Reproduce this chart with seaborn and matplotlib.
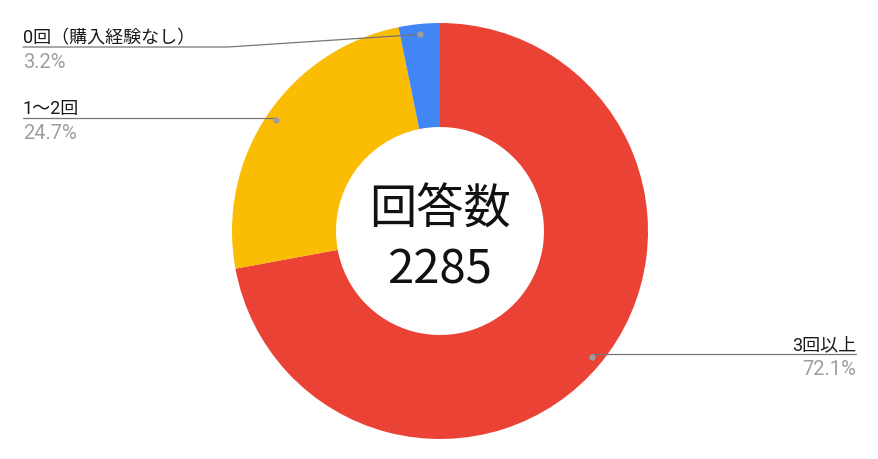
import numpy as np
import matplotlib
matplotlib.use("Agg")
import matplotlib.pyplot as plt
import seaborn as sns

# data
labels = ["3回以上", "1〜2回", "0回（購入経験なし）"]
shares = [72.1, 24.7, 3.2]
colors = ["#EA4335", "#FBBC04", "#4285F4"]
total_answers = 2285

sns.set_theme(style="white")
plt.rcParams["font.family"] = ["Noto Sans CJK JP", "DejaVu Sans"]
label_font = ["Roboto", "Noto Sans CJK JP", "DejaVu Sans"]

W, H = 879, 460
fig = plt.figure(figsize=(W / 100, H / 100), dpi=100)
ax = fig.add_axes([0, 0, 1, 1])

cx, cy, R = 440, H - 232, 208
wedges, _ = ax.pie(shares, colors=sns.color_palette(colors), startangle=90,
                   counterclock=False, center=(cx, cy), radius=R,
                   wedgeprops=dict(width=R * 0.5, linewidth=0))
ax.set_xlim(0, W)
ax.set_ylim(0, H)
ax.set_aspect("equal")
ax.axis("off")

# center text
ax.text(cx, H - 210, "回答数", ha="center", va="center", fontsize=34, color="#111111")
ax.text(cx, H - 270, str(total_answers), ha="center", va="center", fontsize=34, color="#111111")

# leader lines: (line y, text x end, side)
label_pos = {
    "3回以上": (H - 355, 856, "right"),
    "1〜2回": (H - 119, 23, "left"),
    "0回（購入経験なし）": (H - 48, 23, "left"),
}
line_col = "#757575"
for w, lab, pct in zip(wedges, labels, shares):
    mid = np.deg2rad((w.theta1 + w.theta2) / 2)
    dx, dy = cx + 0.95 * R * np.cos(mid), cy + 0.95 * R * np.sin(mid)
    ly, lx, side = label_pos[lab]
    ax.plot(dx, dy, "o", ms=3.5, color="#9E9E9E", zorder=5)
    if side == "left":
        bend = 228 if abs(ly - dy) > 3 else dx
        ax.plot([dx, bend, lx], [dy, ly, ly], color=line_col, lw=0.9, zorder=4)
        ha = "left"
    else:
        ax.plot([dx, lx], [ly, ly], color=line_col, lw=0.9, zorder=4)
        ha = "right"
    ax.text(lx, ly + 5, lab, ha=ha, va="baseline", fontsize=13,
            color="#1a1a1a", family=label_font)
    ax.text(lx, ly - 20, f"{pct}%", ha=ha, va="baseline", fontsize=14.5,
            color="#9E9E9E", family=label_font)

fig.savefig("out.png", dpi=100)
